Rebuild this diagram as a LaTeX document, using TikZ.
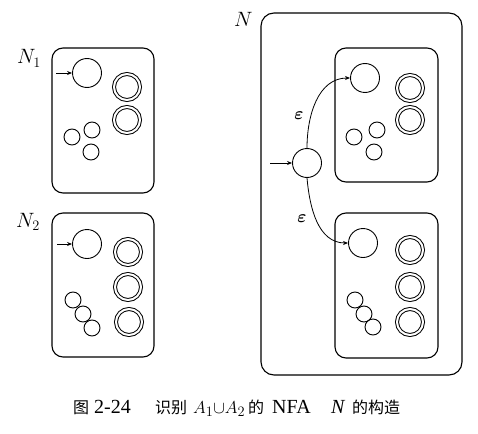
\documentclass[tikz,border=0pt]{standalone}
\usepackage{amsmath}
\usepackage{fontspec}
\newfontfamily\cjk{Noto Sans CJK SC}
\newfontfamily\capfont{Liberation Serif}
\usetikzlibrary{arrows.meta}
\tikzset{
  frame/.style={draw, line width=1.1pt, rounded corners=11pt, inner sep=0pt},
  st/.style={circle, draw, line width=0.9pt, inner sep=0pt, minimum size=29pt},
  sm/.style={circle, draw, line width=0.9pt, inner sep=0pt, minimum size=16pt},
  acc/.style={circle, draw, double, double distance=2pt, line width=1pt, inner sep=0pt, minimum size=26pt},
  lab/.style={font=\fontsize{20}{22}\selectfont, inner sep=0pt, anchor=base west},
  eps/.style={font=\fontsize{17}{19}\selectfont, inner sep=0pt},
  tr/.style={line width=0.8pt, -{Stealth[length=5pt,width=4pt]}},
  captxt/.style={inner sep=0pt, anchor=base west, font=\fontsize{19}{21}\capfont},
  capcjk/.style={inner sep=0pt, anchor=base west, font=\fontsize{16}{18}\cjk}
}
\begin{document}
\begin{tikzpicture}[x=1pt,y=-1pt]
\useasboundingbox (0,0) rectangle (478,433);
% ---------- N1 ----------
\node[frame, minimum width=102pt, minimum height=145pt] (B1) at (103,120.5) {};
\node[lab] (L1) at (17,64) {$N_1$};
\node[st] (a0) at (87,73) {};
\coordinate (a0in) at (56,73);
\node[acc] (a1) at (127,87) {};
\node[acc] (a2) at (127,120) {};
\node[sm] (a3) at (72,137) {};
\node[sm] (a4) at (92,130) {};
\node[sm] (a5) at (91,152) {};
\draw[tr] (a0in) -- (a0);
% ---------- N2 ----------
\node[frame, minimum width=102pt, minimum height=144pt] (B2) at (103,285) {};
\node[lab] (L2) at (16,227) {$N_2$};
\node[st] (b0) at (87,244) {};
\coordinate (b0in) at (57,244);
\node[acc] (b1) at (128,252) {};
\node[acc] (b2) at (128,287) {};
\node[acc] (b3) at (129,322) {};
\node[sm] (b4) at (73,300) {};
\node[sm] (b5) at (83,314) {};
\node[sm] (b6) at (92,328) {};
\draw[tr] (b0in) -- (b0);
% ---------- N ----------
\node[frame, rounded corners=13pt, minimum width=201pt, minimum height=362pt] (B) at (361.5,194) {};
\node[lab] (L) at (234,27) {$N$};
\node[frame, minimum width=103pt, minimum height=134pt] (C1) at (386.5,115) {};
\node[st] (c0) at (365,78) {};
\node[acc] (c1) at (410,88) {};
\node[acc] (c2) at (410,120) {};
\node[sm] (c3) at (354,137) {};
\node[sm] (c4) at (377,130) {};
\node[sm] (c5) at (374,152) {};
\node[frame, minimum width=103pt, minimum height=145pt] (C2) at (386.5,285.5) {};
\node[st] (d0) at (363,243) {};
\node[acc] (d1) at (410,250) {};
\node[acc] (d2) at (410,287) {};
\node[acc] (d3) at (410,322) {};
\node[sm] (d4) at (355,300) {};
\node[sm] (d5) at (364,314) {};
\node[sm] (d6) at (373,327) {};
\node[st] (q0) at (307,163) {};
\coordinate (q0in) at (270,163);
\draw[tr] (q0in) -- (q0);
\draw[tr] (q0.north) to[out=90,in=180] (c0.west);
\draw[tr] (q0.south) to[out=-85,in=180] (d0.west);
\node[eps] (e1) at (299,116) {$\boldsymbol{\varepsilon}$};
\node[eps] (e2) at (302,219) {$\boldsymbol{\varepsilon}$};
% ---------- caption ----------
\node[capcjk] (cap1) at (73,413) {图};
\node[captxt, font=\fontsize{20}{22}\capfont] (cap2) at (94,413) {2-24};
\node[capcjk] (cap3) at (155,413) {识别};
\node[captxt, font=\fontsize{19}{21}\selectfont] (cap4) at (193,413) {${A_1}{\cup}{A_2}$};
\node[capcjk] (cap5) at (248,413) {的};
\node[captxt, font=\fontsize{20}{22}\capfont] (cap6) at (272,413) {NFA};
\node[captxt, font=\fontsize{20}{22}\capfont\itshape] (cap7) at (331,413) {N};
\node[capcjk] (cap8) at (352,413) {的构造};
\end{tikzpicture}
\end{document}
